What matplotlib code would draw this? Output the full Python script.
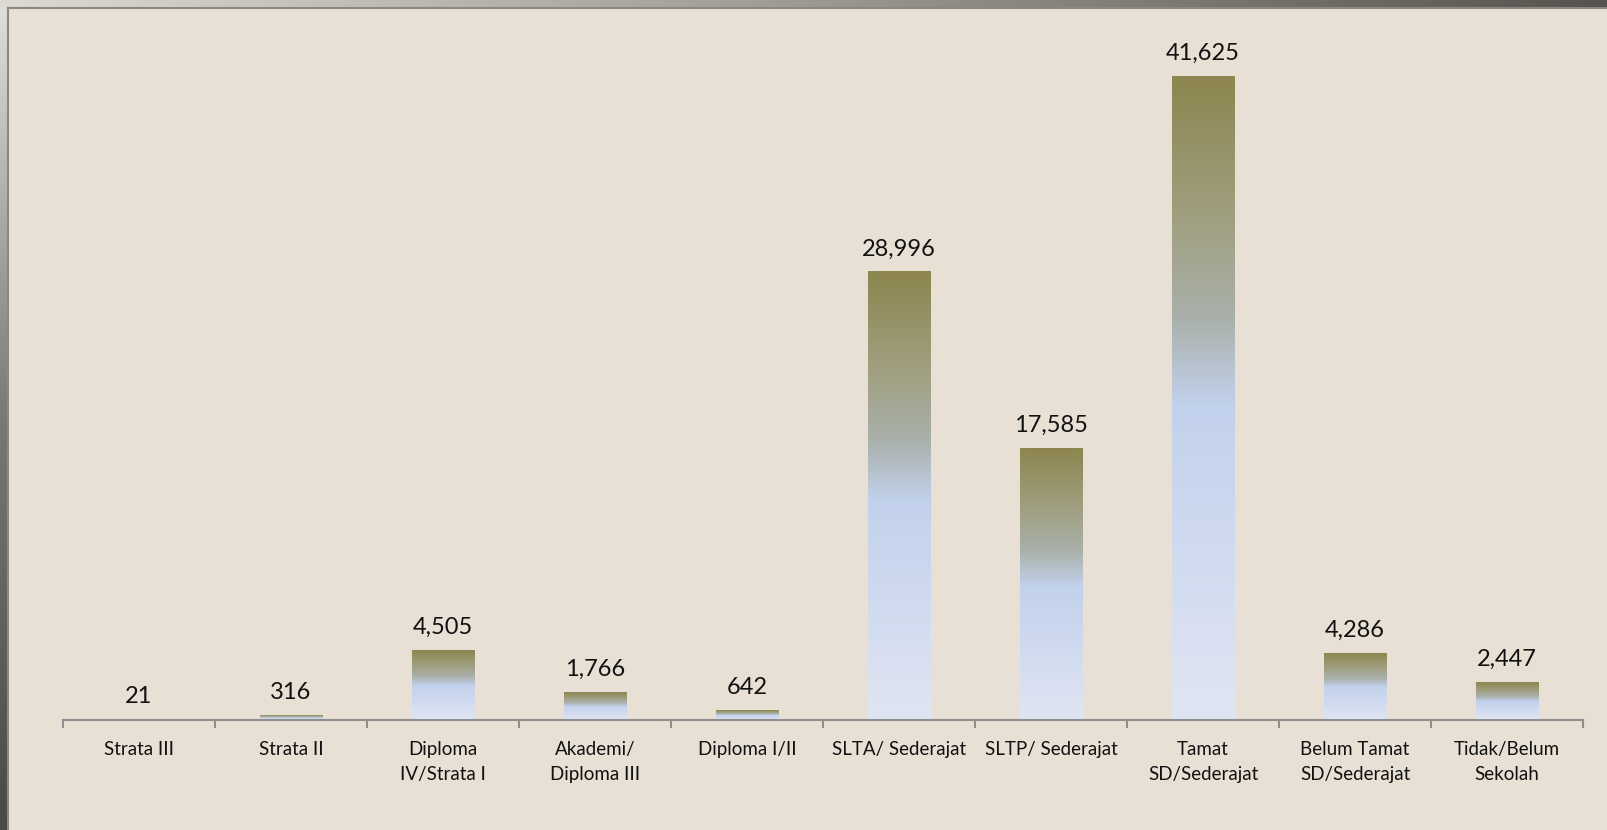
import numpy as np
import matplotlib.pyplot as plt
from matplotlib.colors import LinearSegmentedColormap

# Data
categories = ['Strata III', 'Strata II', 'Diploma\nIV/Strata I', 'Akademi/\nDiploma III',
              'Diploma I/II', 'SLTA/ Sederajat', 'SLTP/ Sederajat', 'Tamat\nSD/Sederajat',
              'Belum Tamat\nSD/Sederajat', 'Tidak/Belum\nSekolah']
values = [21, 316, 4505, 1766, 642, 28996, 17585, 41625, 4286, 2447]

plt.rcParams['font.family'] = ['Lato', 'DejaVu Sans']

bg = '#e8e0d4'
fig = plt.figure(figsize=(16.08, 8.30), dpi=100, facecolor=bg)

# frame strips on left and top
strip = fig.add_axes([0, 0, 1, 1], zorder=-1)
strip.set_xlim(0, 1608)
strip.set_ylim(830, 0)
strip.axis('off')
grad_h = np.linspace(0, 1, 256).reshape(1, -1)
grad_v = np.linspace(0, 1, 256).reshape(-1, 1)
frame_cmap = LinearSegmentedColormap.from_list('frame', ['#dcdad3', '#9c9a92', '#55534d'])
strip.imshow(grad_h, cmap=frame_cmap, extent=[0, 1608, 8, 0], aspect='auto')
strip.imshow(grad_v, cmap=LinearSegmentedColormap.from_list('fl', ['#e0ded8', '#7a7870', '#4a4944']),
             extent=[0, 8, 830, 8], aspect='auto')
strip.plot([8, 8], [8, 830], color='#8a8880', lw=1.5)
strip.plot([8, 1608], [8, 8], color='#8a8880', lw=1.5)

ax = fig.add_axes([63 / 1608, 110 / 830, 1520 / 1608, 680 / 830])
ax.set_facecolor('none')

bar_cmap = LinearSegmentedColormap.from_list(
    'bar', [(0.0, '#e0e5f3'), (0.49, '#c2d1ec'), (0.62, '#aab1ac'),
            (0.78, '#a09f80'), (1.0, '#8d864f')])
grad = np.linspace(0, 1, 256).reshape(-1, 1)
w = 0.41
for i, v in enumerate(values):
    x = i + 0.5
    ax.imshow(grad, cmap=bar_cmap, origin='lower', aspect='auto',
              extent=[x - w / 2, x + w / 2, 0, v], zorder=2)
    ax.annotate(f'{v:,}', (x, v), xytext=(0, 9), textcoords='offset points',
                ha='center', va='bottom', fontsize=17, color='#111111')

ax.set_xlim(0, len(categories))
ax.set_ylim(0, 44000)
ax.set_xticks(np.arange(len(categories) + 1))
ax.set_xticklabels([])
ax.set_xticks(np.arange(len(categories)) + 0.5, minor=True)
ax.set_xticklabels(categories, minor=True, fontsize=13.5, color='#111111', linespacing=1.55)
ax.tick_params(axis='x', which='major', length=6, width=1.5, color='#8f8f8f')
ax.tick_params(axis='x', which='minor', length=0, pad=15)
ax.set_yticks([])
for s in ['top', 'right', 'left']:
    ax.spines[s].set_visible(False)
ax.spines['bottom'].set_color('#8f8f8f')
ax.spines['bottom'].set_linewidth(1.5)
ax.spines['bottom'].set_zorder(3)

fig.savefig('out.png', dpi=100, facecolor=bg)
